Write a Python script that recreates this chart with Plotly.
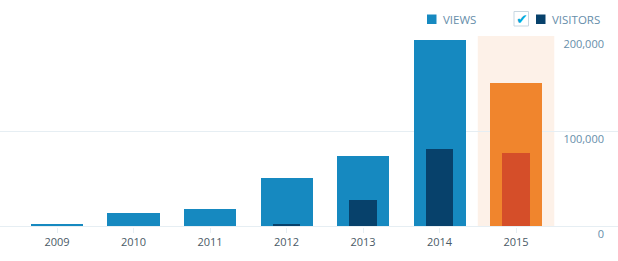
import plotly.graph_objects as go

categories = ["2009", "2010", "2011", "2012", "2013", "2014", "2015"]
views = [2100, 13700, 17900, 50200, 73700, 195800, 150500]
visitors = [0, 0, 0, 2100, 27400, 81000, 77100]
y_tick_vals = [0, 100000, 200000]
y_tick_text = ["0", "100,000", "200,000"]
highlight = "2015"

VIEW_C = "#1689c0"
VIS_C = "#07416b"
VIEW_HL = "#f0852d"
VIS_HL = "#d54e29"
GRID = "#e6eef3"

W, H = 618, 261
MT, MB = 35, 34
PH = H - MT - MB


def px(x):
    return x / W


def py(y):
    return (H - MB - y) / PH


hi = categories.index(highlight)
view_colors = [VIEW_HL if c == highlight else VIEW_C for c in categories]
vis_colors = [VIS_HL if c == highlight else VIS_C for c in categories]

fig = go.Figure()
fig.add_trace(go.Bar(x=categories, y=views, width=0.68,
                     marker=dict(color=view_colors, line=dict(width=0)),
                     name="Views", hoverinfo="x+y"))
fig.add_trace(go.Bar(x=categories, y=visitors, width=0.36,
                     marker=dict(color=vis_colors, line=dict(width=0)),
                     name="Visitors", hoverinfo="x+y"))

# highlighted period background
fig.add_shape(type="rect", xref="x", yref="y", x0=hi - 0.5, x1=hi + 0.5,
              y0=0, y1=y_tick_vals[-1], fillcolor="#fdf1e8",
              line=dict(width=0), layer="below")

# custom legend
font = "Open Sans, Liberation Sans, sans-serif"
fig.add_shape(type="rect", xref="paper", yref="paper",
              x0=px(427), x1=px(436.5), y0=py(24), y1=py(14.5),
              fillcolor=VIEW_C, line=dict(width=0))
fig.add_annotation(text="VIEWS", xref="paper", yref="paper",
                   x=px(440.5), y=py(19.5), xanchor="left", yanchor="middle",
                   showarrow=False, font=dict(family=font, size=11.5, color="#668eaa"))
fig.add_shape(type="rect", xref="paper", yref="paper",
              x0=px(514), x1=px(528.5), y0=py(26), y1=py(11.5),
              fillcolor="white", line=dict(width=1, color="#c8d7e1"))
fig.add_annotation(text="✔", xref="paper", yref="paper",
                   x=px(521.5), y=py(19), xanchor="center", yanchor="middle",
                   showarrow=False, font=dict(family="DejaVu Sans", size=14, color="#00aadc"))
fig.add_shape(type="rect", xref="paper", yref="paper",
              x0=px(536), x1=px(545.5), y0=py(24), y1=py(14.5),
              fillcolor=VIS_C, line=dict(width=0))
fig.add_annotation(text="VISITORS", xref="paper", yref="paper",
                   x=px(550), y=py(19.5), xanchor="left", yanchor="middle",
                   showarrow=False, font=dict(family=font, size=11.5, color="#668eaa"))

fig.update_layout(
    width=W, height=H,
    margin=dict(l=0, r=0, t=MT, b=MB),
    paper_bgcolor="white", plot_bgcolor="white",
    barmode="overlay", bargap=0, showlegend=False,
    font=dict(family=font),
    xaxis=dict(type="category", range=[-0.745, 7.333],
               showgrid=False, zeroline=False, showline=False,
               ticks="outside", ticklen=5, tickcolor=GRID, tickwidth=1,
               tickfont=dict(family=font, size=11, color="#4a5a66")),
    yaxis=dict(range=[-1000, 201000], tickvals=y_tick_vals, ticktext=y_tick_text,
               showgrid=True, gridcolor=GRID, gridwidth=1,
               zeroline=True, zerolinecolor=GRID, zerolinewidth=1,
               showline=False, ticks="",
               side="left", anchor="free", position=604/618,
               ticklabelposition="outside bottom",
               tickfont=dict(family=font, size=11, color="#668eaa")),
)

fig.write_html("out.html")
